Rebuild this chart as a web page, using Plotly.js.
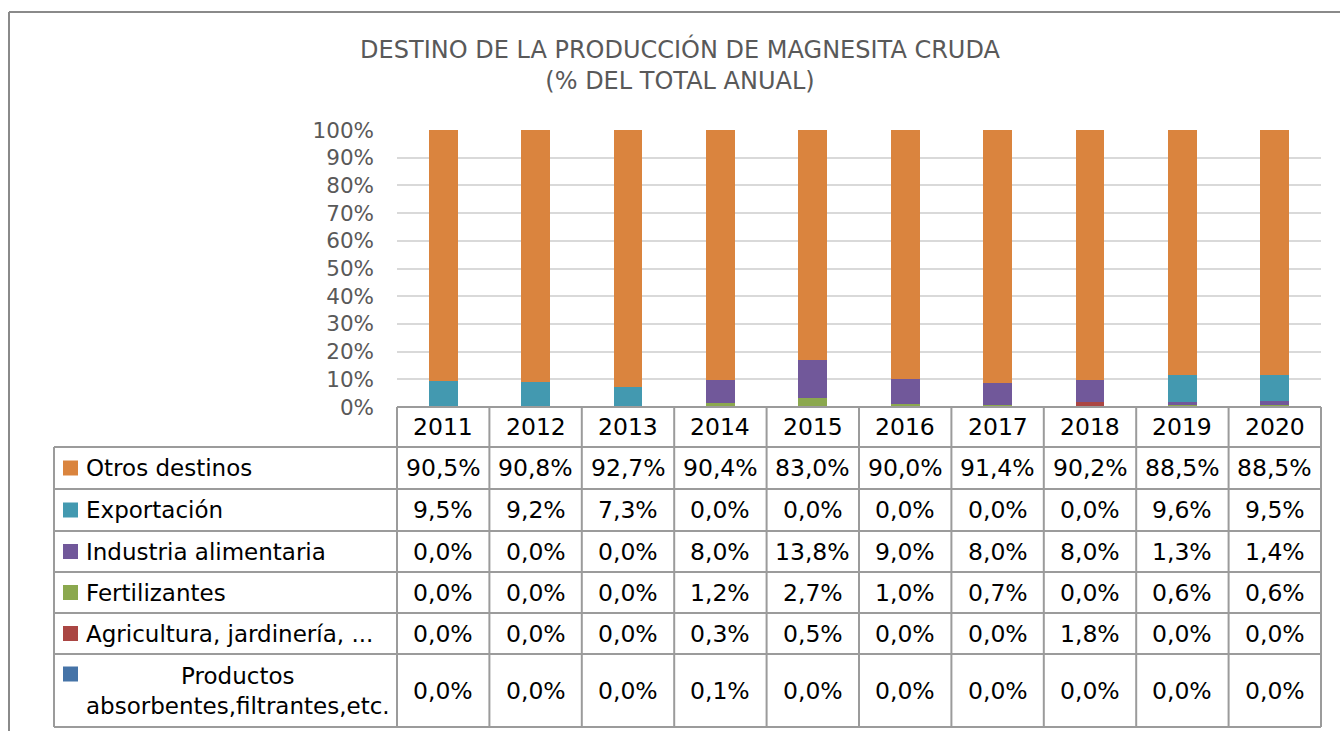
<!DOCTYPE html>
<html>
<head>
<meta charset="utf-8">
<script src="https://cdn.plot.ly/plotly-3.0.1.min.js"></script>
<style>
html,body{margin:0;padding:0;background:#fff;}
#chart{width:1340px;height:731px;}
</style>
</head>
<body>
<div id="chart"></div>
<script>
// ---- data ----
const years = ['2011','2012','2013','2014','2015','2016','2017','2018','2019','2020'];
const otrosDestinos = [90.5, 90.8, 92.7, 90.4, 83.0, 90.0, 91.4, 90.2, 88.5, 88.5];
const exportacion = [9.5, 9.2, 7.3, 0.0, 0.0, 0.0, 0.0, 0.0, 9.6, 9.5];
const industriaAlimentaria = [0.0, 0.0, 0.0, 8.0, 13.8, 9.0, 8.0, 8.0, 1.3, 1.4];
const fertilizantes = [0.0, 0.0, 0.0, 1.2, 2.7, 1.0, 0.7, 0.0, 0.6, 0.6];
const agricultura = [0.0, 0.0, 0.0, 0.3, 0.5, 0.0, 0.0, 1.8, 0.0, 0.0];
const productosAbsorbentes = [0.0, 0.0, 0.0, 0.1, 0.0, 0.0, 0.0, 0.0, 0.0, 0.0];
const seriesNames = ['Otros destinos', 'Exportación', 'Industria alimentaria', 'Fertilizantes',
  'Agricultura, jardinería, ...', 'Productos<br>absorbentes,filtrantes,etc.'];
const yTicks = [0,10,20,30,40,50,60,70,80,90,100];
const titleText = 'DESTINO DE LA PRODUCCIÓN DE MAGNESITA CRUDA<br>(% DEL TOTAL ANUAL)';

// ---- styling ----
const seriesValues = [otrosDestinos, exportacion, industriaAlimentaria, fertilizantes, agricultura, productosAbsorbentes];
const seriesColors = ['#DA843E', '#4399B0', '#71589A', '#8BA84E', '#AA4643', '#4573A7'];
const W = 1340, H = 731;
const L = 397, R = 1321, T = 130, B = 407;
const px = x => (x - L) / (R - L);
const py = y => (B - y) / (B - T);
const FONT = 'DejaVu Sans, Verdana, sans-serif';
const CELL_FONT = {family: FONT, size: 23.5, color: '#000'};
const LABEL_FONT = {family: FONT, size: 23, color: '#000'};
const LINE = {color: '#9b9b9b', width: 2};

// rows (pixel boundaries)
const rowEdges = [447, 489, 531, 572, 613, 654, 727];
const tableLeft = 54;

// traces: stacked bottom -> top
const traces = [];
for (let i = seriesValues.length - 1; i >= 0; i--) {
  traces.push({
    type: 'bar',
    name: seriesNames[i],
    x: years,
    y: seriesValues[i],
    marker: {color: seriesColors[i], line: {width: 0}},
    hoverinfo: 'x+y+name'
  });
}

const shapes = [];
const annotations = [];

// outer frame (left and top)
shapes.push({type: 'line', xref: 'paper', yref: 'paper', x0: px(9), x1: px(9), y0: py(12), y1: py(H + 5), line: {color: '#8a8a8a', width: 2}});
shapes.push({type: 'line', xref: 'paper', yref: 'paper', x0: px(9), x1: px(W + 5), y0: py(12), y1: py(12), line: {color: '#8a8a8a', width: 2}});

// table horizontal lines
shapes.push({type: 'line', xref: 'paper', yref: 'paper', x0: 0, x1: 1, y0: py(B), y1: py(B), line: LINE});
rowEdges.forEach(y => {
  shapes.push({type: 'line', xref: 'paper', yref: 'paper', x0: px(tableLeft), x1: 1, y0: py(y), y1: py(y), line: LINE});
});
// table vertical lines
shapes.push({type: 'line', xref: 'paper', yref: 'paper', x0: px(tableLeft), x1: px(tableLeft), y0: py(rowEdges[0]), y1: py(rowEdges[rowEdges.length - 1]), line: LINE});
for (let i = 0; i <= years.length; i++) {
  shapes.push({type: 'line', xref: 'x domain', yref: 'paper', x0: i / years.length, x1: i / years.length,
    y0: py(B), y1: py(rowEdges[rowEdges.length - 1]), line: LINE});
}

// header years (placed on the category axis by index)
years.forEach((yr, c) => {
  annotations.push({xref: 'x', yref: 'paper', x: c, y: py((B + rowEdges[0]) / 2), text: yr,
    showarrow: false, xanchor: 'center', yanchor: 'middle', font: CELL_FONT});
});

// table body
let rowTop = rowEdges[0];
seriesNames.forEach((name, r) => {
  const rowBottom = rowEdges[r + 1];
  const cy = (rowTop + rowBottom) / 2;
  const multi = name.indexOf('<br>') >= 0;
  // legend key square
  const sqC = multi ? rowTop + 20 : cy;
  shapes.push({type: 'rect', xref: 'paper', yref: 'paper', x0: px(63), x1: px(78), y0: py(sqC - 7.5), y1: py(sqC + 7.5),
    fillcolor: seriesColors[r], line: {width: 0}});
  annotations.push({xref: 'paper', yref: 'paper', x: px(84), y: py(cy), text: name, showarrow: false,
    xanchor: 'left', yanchor: 'middle', align: 'center', font: LABEL_FONT});
  seriesValues[r].forEach((v, c) => {
    annotations.push({xref: 'x', yref: 'paper', x: c, y: py(cy),
      text: v.toFixed(1).replace('.', ',') + '%', showarrow: false, xanchor: 'center', yanchor: 'middle', font: CELL_FONT});
  });
  rowTop = rowBottom;
});

const layout = {
  width: W, height: H,
  margin: {l: L, r: W - R, t: T, b: H - B, pad: 0},
  paper_bgcolor: '#fff', plot_bgcolor: '#fff',
  barmode: 'stack',
  bargap: 0.69,
  showlegend: false,
  title: {text: titleText, xref: 'container', yref: 'container', x: 680 / W, y: 1 - 58 / H,
    xanchor: 'center', yanchor: 'middle', font: {family: FONT, size: 24, color: '#595959'}},
  xaxis: {type: 'category', range: [-0.5, years.length - 0.5], showticklabels: false, showgrid: false,
    zeroline: false, showline: false, ticks: '', fixedrange: true},
  yaxis: {range: [0, 100], tickvals: yTicks, ticktext: yTicks.map(v => v + '%'), showgrid: true,
    gridcolor: '#d9d9d9', gridwidth: 2, zeroline: false, showline: false, ticks: '',
    ticklabelstandoff: 22, tickfont: {family: FONT, size: 21.5, color: '#595959'}, fixedrange: true},
  shapes: shapes,
  annotations: annotations
};

Plotly.newPlot('chart', traces, layout, {displayModeBar: false, staticPlot: true});
</script>
</body>
</html>
